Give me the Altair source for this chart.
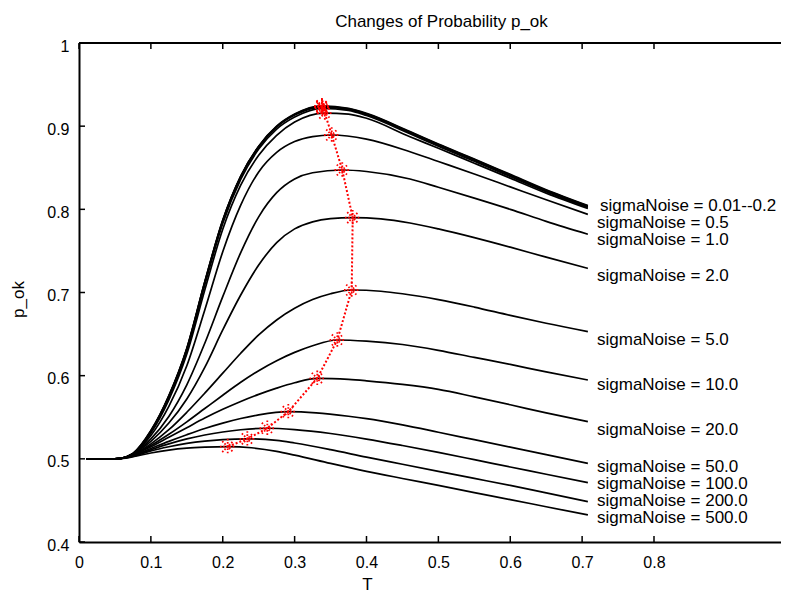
import altair as alt
import pandas as pd

FONT = "Liberation Sans"

sigma_names = ["0.01", "0.02", "0.05", "0.1", "0.2", "0.5", "1.0", "2.0", "5.0",
               "10.0", "20.0", "50.0", "100.0", "200.0", "500.0"]

curve_T = {
    "0.01": [0.01, 0.03, 0.05, 0.06, 0.075, 0.1, 0.125, 0.15, 0.175, 0.2, 0.225, 0.25, 0.275, 0.3, 0.338, 0.375, 0.4, 0.4605, 0.5, 0.55, 0.6, 0.65, 0.708],
    "0.02": [0.01, 0.03, 0.05, 0.06, 0.075, 0.1, 0.125, 0.15, 0.175, 0.2, 0.225, 0.25, 0.275, 0.3, 0.338, 0.375, 0.4, 0.4605, 0.5, 0.55, 0.6, 0.65, 0.708],
    "0.05": [0.01, 0.03, 0.05, 0.06, 0.075, 0.1, 0.125, 0.15, 0.175, 0.2, 0.225, 0.25, 0.275, 0.3, 0.338, 0.375, 0.4, 0.4605, 0.5, 0.55, 0.6, 0.65, 0.708],
    "0.1":  [0.01, 0.03, 0.05, 0.06, 0.075, 0.1, 0.125, 0.15, 0.175, 0.2, 0.225, 0.25, 0.275, 0.3, 0.339, 0.375, 0.4, 0.4605, 0.5, 0.55, 0.6, 0.65, 0.708],
    "0.2":  [0.01, 0.03, 0.05, 0.06, 0.075, 0.1, 0.125, 0.15, 0.175, 0.2, 0.225, 0.25, 0.275, 0.3, 0.342, 0.375, 0.4, 0.4605, 0.5, 0.55, 0.6, 0.65, 0.708],
    "0.5":  [0.01, 0.03, 0.05, 0.06, 0.075, 0.1, 0.125, 0.15, 0.175, 0.2, 0.225, 0.25, 0.275, 0.3, 0.325, 0.3516, 0.4, 0.4605, 0.5, 0.55, 0.6, 0.65, 0.708],
    "1.0":  [0.01, 0.03, 0.05, 0.06, 0.075, 0.1, 0.125, 0.15, 0.175, 0.2, 0.225, 0.25, 0.275, 0.3, 0.325, 0.3663, 0.4, 0.4605, 0.5, 0.55, 0.6, 0.65, 0.708],
    "2.0":  [0.01, 0.03, 0.05, 0.06, 0.075, 0.1, 0.125, 0.15, 0.175, 0.2, 0.225, 0.25, 0.275, 0.3, 0.325, 0.35, 0.3808, 0.42, 0.4605, 0.5, 0.55, 0.6, 0.65, 0.708],
    "5.0":  [0.01, 0.03, 0.05, 0.06, 0.075, 0.1, 0.125, 0.15, 0.175, 0.2, 0.225, 0.25, 0.275, 0.3, 0.325, 0.35, 0.3794, 0.42, 0.45, 0.5, 0.55, 0.6, 0.65, 0.708],
    "10.0": [0.01, 0.03, 0.05, 0.06, 0.075, 0.1, 0.125, 0.15, 0.175, 0.2, 0.225, 0.25, 0.275, 0.3, 0.325, 0.3594, 0.4, 0.45, 0.5, 0.55, 0.6, 0.65, 0.708],
    "20.0": [0.01, 0.03, 0.05, 0.06, 0.075, 0.1, 0.125, 0.15, 0.175, 0.2, 0.225, 0.25, 0.275, 0.3, 0.3315, 0.375, 0.4, 0.45, 0.5, 0.55, 0.6, 0.65, 0.708],
    "50.0": [0.01, 0.03, 0.05, 0.06, 0.075, 0.1, 0.125, 0.15, 0.175, 0.2, 0.225, 0.25, 0.2912, 0.33, 0.375, 0.4, 0.45, 0.5, 0.55, 0.6, 0.65, 0.708],
    "100.0": [0.01, 0.03, 0.05, 0.06, 0.075, 0.1, 0.125, 0.15, 0.175, 0.2, 0.225, 0.262, 0.3, 0.35, 0.4, 0.45, 0.5, 0.55, 0.6, 0.65, 0.708],
    "200.0": [0.01, 0.03, 0.05, 0.06, 0.075, 0.1, 0.125, 0.15, 0.175, 0.2, 0.2342, 0.275, 0.3, 0.35, 0.4, 0.45, 0.5, 0.55, 0.6, 0.65, 0.708],
    "500.0": [0.01, 0.03, 0.05, 0.06, 0.075, 0.1, 0.125, 0.15, 0.175, 0.2069, 0.24, 0.275, 0.3, 0.35, 0.4, 0.45, 0.5, 0.55, 0.6, 0.65, 0.708],
}

curve_p = {
    "0.01": [0.5, 0.5, 0.5, 0.5008, 0.5065, 0.534, 0.576, 0.633, 0.713, 0.787, 0.840, 0.876, 0.900, 0.9145, 0.9245, 0.9215, 0.9155, 0.8935, 0.8785, 0.8605, 0.842, 0.8235, 0.8045],
    "0.02": [0.5, 0.5, 0.5, 0.5008, 0.5063, 0.5335, 0.5755, 0.6325, 0.7125, 0.7865, 0.8395, 0.8755, 0.8995, 0.914, 0.9237, 0.9207, 0.9148, 0.8928, 0.8778, 0.8598, 0.8413, 0.8228, 0.8038],
    "0.05": [0.5, 0.5, 0.5, 0.5008, 0.506, 0.533, 0.575, 0.632, 0.712, 0.786, 0.839, 0.875, 0.899, 0.9133, 0.923, 0.920, 0.914, 0.892, 0.877, 0.859, 0.8406, 0.8221, 0.8031],
    "0.1":  [0.5, 0.5, 0.5, 0.5008, 0.5058, 0.5325, 0.574, 0.630, 0.709, 0.783, 0.836, 0.8725, 0.8965, 0.911, 0.9215, 0.919, 0.9128, 0.8908, 0.8758, 0.8578, 0.8395, 0.8211, 0.8022],
    "0.2":  [0.5, 0.5, 0.5, 0.5008, 0.5055, 0.531, 0.571, 0.626, 0.703, 0.776, 0.829, 0.865, 0.889, 0.905, 0.9158, 0.9145, 0.9095, 0.8873, 0.8735, 0.8555, 0.8375, 0.8195, 0.801],
    "0.5":  [0.5, 0.5, 0.5, 0.5008, 0.506, 0.528, 0.563, 0.612, 0.679, 0.749, 0.805, 0.845, 0.8685, 0.8815, 0.8875, 0.8894, 0.8845, 0.8693, 0.8575, 0.8425, 0.827, 0.8115, 0.794],
    "1.0":  [0.5, 0.5, 0.5, 0.5008, 0.506, 0.524, 0.551, 0.589, 0.639, 0.695, 0.748, 0.791, 0.820, 0.8365, 0.8440, 0.8473, 0.8455, 0.8365, 0.8265, 0.8135, 0.800, 0.7855, 0.770],
    "2.0":  [0.5, 0.5, 0.5, 0.5008, 0.506, 0.521, 0.543, 0.572, 0.610, 0.655, 0.697, 0.733, 0.760, 0.7765, 0.7850, 0.7888, 0.790, 0.7885, 0.7836, 0.7765, 0.766, 0.7545, 0.7425, 0.729],
    "5.0":  [0.5, 0.5, 0.5, 0.5008, 0.5055, 0.518, 0.535, 0.556, 0.579, 0.603, 0.627, 0.649, 0.667, 0.681, 0.6915, 0.6985, 0.703, 0.7015, 0.6985, 0.6915, 0.6825, 0.6725, 0.663, 0.653],
    "10.0": [0.5, 0.5, 0.5, 0.5008, 0.505, 0.516, 0.5295, 0.5445, 0.5605, 0.5765, 0.592, 0.606, 0.618, 0.628, 0.636, 0.6429, 0.6415, 0.6375, 0.6305, 0.622, 0.6135, 0.6045, 0.5948],
    "20.0": [0.5, 0.5, 0.5, 0.5007, 0.5045, 0.5145, 0.526, 0.5375, 0.549, 0.5595, 0.569, 0.5775, 0.585, 0.5915, 0.5968, 0.5955, 0.5938, 0.5895, 0.5835, 0.5745, 0.565, 0.5552, 0.5447],
    "50.0": [0.5, 0.5, 0.5, 0.5007, 0.504, 0.5125, 0.521, 0.529, 0.5365, 0.543, 0.5485, 0.5528, 0.5567, 0.5553, 0.5512, 0.5483, 0.5408, 0.532, 0.523, 0.514, 0.505, 0.4946],
    "100.0": [0.5, 0.5, 0.5, 0.5006, 0.5035, 0.511, 0.518, 0.524, 0.5287, 0.5323, 0.535, 0.5368, 0.5352, 0.5305, 0.5238, 0.516, 0.5077, 0.499, 0.4902, 0.4815, 0.4713],
    "200.0": [0.5, 0.5, 0.5, 0.5006, 0.503, 0.5095, 0.5145, 0.5185, 0.5213, 0.5231, 0.524, 0.5222, 0.519, 0.511, 0.502, 0.4935, 0.485, 0.4765, 0.468, 0.459, 0.4485],
    "500.0": [0.5, 0.5, 0.5, 0.5005, 0.5025, 0.507, 0.5105, 0.5128, 0.514, 0.5147, 0.5133, 0.509, 0.5045, 0.4945, 0.485, 0.4764, 0.468, 0.4594, 0.451, 0.4424, 0.4325],
}

# maxima of each curve (red dotted trace)
peak_T = [0.338, 0.338, 0.338, 0.339, 0.342, 0.3516, 0.3663, 0.3808, 0.3794, 0.3594, 0.3315, 0.2912, 0.262, 0.2342, 0.2069]
peak_p = [0.9245, 0.9237, 0.923, 0.9215, 0.9158, 0.8894, 0.8473, 0.790, 0.703, 0.6429, 0.5968, 0.5567, 0.5368, 0.524, 0.5147]

label_text = ["sigmaNoise = 0.01--0.2", "sigmaNoise = 0.5", "sigmaNoise = 1.0", "sigmaNoise = 2.0",
              "sigmaNoise = 5.0", "sigmaNoise = 10.0", "sigmaNoise = 20.0", "sigmaNoise = 50.0",
              "sigmaNoise = 100.0", "sigmaNoise = 200.0", "sigmaNoise = 500.0"]
label_T = [0.7249, 0.7207, 0.7207, 0.7207, 0.7207, 0.7207, 0.7207, 0.7207, 0.7207, 0.7207, 0.7207]
label_p = [0.7980, 0.7776, 0.7571, 0.7142, 0.6369, 0.5828, 0.5287, 0.4846, 0.4641, 0.4437, 0.4232]

title_text = ["Changes of Probability p_ok"]

x_ticks = [0, 0.1, 0.2, 0.3, 0.4, 0.5, 0.6, 0.7, 0.8]
y_ticks = [0.4, 0.5, 0.6, 0.7, 0.8, 0.9, 1.0]

W, H = 702, 499

rows = []
for s in sigma_names:
    for i, (t, p) in enumerate(zip(curve_T[s], curve_p[s])):
        rows.append({"sigma": s, "i": i, "T": t, "p": p})
curves = pd.DataFrame(rows)
peaks = pd.DataFrame({"T": peak_T, "p": peak_p, "i": list(range(len(peak_T)))})
labels = pd.DataFrame({"T": label_T, "p": label_p, "text": label_text})
xt = pd.DataFrame({"v": x_ticks})
yt = pd.DataFrame({"v": y_ticks})
tt = pd.DataFrame({"text": title_text})

xscale = alt.Scale(domain=[0, 0.9767], nice=False, zero=False)
yscale = alt.Scale(domain=[0.4, 1.0], nice=False, zero=False)

xaxis = alt.Axis(values=x_ticks, format=".1~f", ticks=False, tickSize=0, grid=False,
                 domain=True, domainColor="black", domainWidth=2,
                 labelFont=FONT, labelFontSize=16, labelColor="black",
                 labelBaseline="alphabetic", labelPadding=25, labelFlush=False, labelOverlap=False,
                 title="T", titleFont=FONT, titleFontSize=17, titleFontWeight="normal",
                 titleColor="black", titleX=288, titleY=47, titleBaseline="alphabetic",
                 titleAlign="center")
yaxis = alt.Axis(values=y_ticks, format=".1~f", ticks=False, tickSize=0, grid=False,
                 domain=True, domainColor="black", domainWidth=2,
                 labelFont=FONT, labelFontSize=16, labelColor="black",
                 labelBaseline="middle", labelPadding=10, labelOffset=3, labelFlush=False,
                 labelOverlap=False,
                 title="p_ok", titleFont=FONT, titleFontSize=17, titleFontWeight="normal",
                 titleColor="black", titleX=-61, titleY=256, titleBaseline="middle",
                 titleAlign="center", titleAngle=-90)

lines = alt.Chart(curves).mark_line(color="black", strokeWidth=1.7, interpolate="monotone").encode(
    x=alt.X("T:Q", scale=xscale, axis=xaxis),
    y=alt.Y("p:Q", scale=yscale, axis=yaxis),
    detail="sigma:N",
    order="i:Q",
)

trace = alt.Chart(peaks).mark_line(color="#ff0000", strokeWidth=2, strokeDash=[2, 2]).encode(
    x="T:Q", y="p:Q", order="i:Q"
)

star_path = ("M-1,0L1,0M0,-1L0,1M-0.7071,-0.7071L0.7071,0.7071"
             "M-0.7071,0.7071L0.7071,-0.7071")
stars = alt.Chart(peaks).mark_point(shape=star_path, size=240, filled=False, color="#ff0000",
                                    strokeWidth=1.8, strokeDash=[1.6, 1.6], opacity=1).encode(
    x="T:Q", y="p:Q"
)

texts = alt.Chart(labels).mark_text(align="left", baseline="alphabetic", font=FONT,
                                    fontSize=17, color="black").encode(
    x="T:Q", y="p:Q", text="text:N"
)

title = alt.Chart(tt).mark_text(align="center", baseline="alphabetic", font=FONT,
                                fontSize=17, color="black").encode(
    x=alt.value(362.5), y=alt.value(-16.5), text="text:N"
)

xticks_bottom = alt.Chart(xt).mark_rule(color="black", strokeWidth=1.5).encode(
    x="v:Q", y=alt.value(H), y2=alt.value(H - 6)
)
xticks_top = alt.Chart(xt).mark_rule(color="black", strokeWidth=1.5).encode(
    x="v:Q", y=alt.value(0), y2=alt.value(6)
)
yticks_left = alt.Chart(yt).mark_rule(color="black", strokeWidth=1.5).encode(
    y="v:Q", x=alt.value(0), x2=alt.value(6)
)
top_border = alt.Chart(xt).mark_rule(color="black", strokeWidth=2).encode(
    y=alt.value(0), x=alt.value(0), x2=alt.value(W)
)

chart = alt.layer(
    lines, trace, stars, texts, title, xticks_bottom, xticks_top, yticks_left, top_border
).properties(
    width=W, height=H,
    padding={"left": 71, "top": 35, "right": 0, "bottom": 52},
    autosize=alt.AutoSizeParams(type="none"),
).configure_view(stroke=None).configure(background="white")

chart.save("out.html", embed_options={"renderer": "svg", "actions": False})
